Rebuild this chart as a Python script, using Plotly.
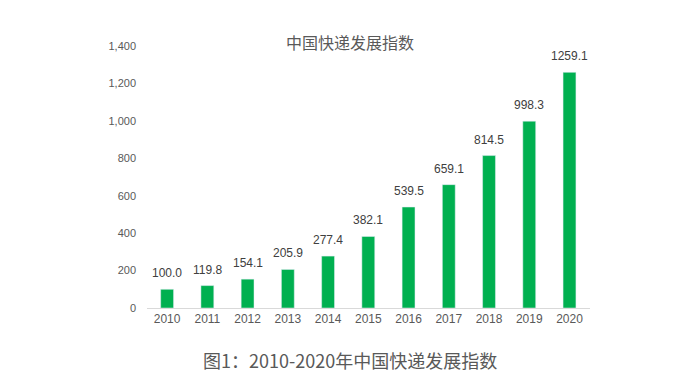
import plotly.graph_objects as go

years = ["2010", "2011", "2012", "2013", "2014", "2015", "2016", "2017", "2018", "2019", "2020"]
values = [100.0, 119.8, 154.1, 205.9, 277.4, 382.1, 539.5, 659.1, 814.5, 998.3, 1259.1]
labels = ["100.0", "119.8", "154.1", "205.9", "277.4", "382.1", "539.5", "659.1", "814.5", "998.3", "1259.1"]
yticks = [0, 200, 400, 600, 800, 1000, 1200, 1400]
yticklabels = ["0", "200", "400", "600", "800", "1,000", "1,200", "1,400"]

fig = go.Figure(go.Bar(
    x=years, y=values, marker_color="#00B050",
))
for i, (v, lab) in enumerate(zip(values, labels)):
    fig.add_annotation(x=i, y=v, text=lab, showarrow=False, yanchor="middle", yshift=16,
                       font=dict(size=12, color="#404040", family="Liberation Sans, Arial"))
fig.update_layout(
    width=693, height=385,
    margin=dict(l=139, r=111, t=38, b=85),
    paper_bgcolor="white", plot_bgcolor="white",
    bargap=0.68,
    showlegend=False,
    font=dict(family="Liberation Sans, Arial", size=11, color="#595959"),
)
fig.update_xaxes(type="category", showgrid=False, showline=True, linecolor="#D9D9D9", linewidth=1,
                 ticks="", tickfont=dict(size=12, color="#595959"))
fig.update_yaxes(range=[0, 1400], tickvals=yticks, ticktext=yticklabels, showgrid=False,
                 zeroline=False, showline=False, ticks="", ticklabelstandoff=10,
                 tickfont=dict(size=11, color="#595959"))
fig.add_annotation(text="中国快递发展指数", xref="paper", yref="paper", x=0.458, y=1.0,
                   yanchor="middle", yshift=4, showarrow=False,
                   font=dict(size=16, color="#595959", family="Noto Sans CJK SC"))
fig.add_annotation(text="图1：2010-2020年中国快递发展指数", xref="paper", yref="paper",
                   x=0.458, y=0, yanchor="middle", yshift=-52, showarrow=False,
                   font=dict(size=18, color="#595959", family="Noto Sans CJK SC"))
fig.write_html("out.html")
